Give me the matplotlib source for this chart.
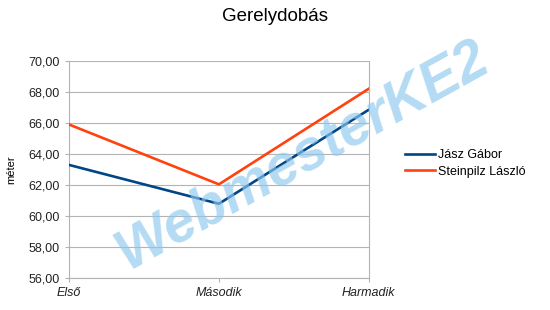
import matplotlib.pyplot as plt
from matplotlib.ticker import FuncFormatter

plt.rcParams['font.family'] = ['Liberation Sans', 'DejaVu Sans']

# data
rounds = ["Első", "Második", "Harmadik"]
jasz = [63.3, 60.8, 66.85]
steinpilz = [65.9, 62.05, 68.2]
yticks = [56, 58, 60, 62, 64, 66, 68, 70]

fig = plt.figure(figsize=(5.5, 3.1), dpi=100)
ax = fig.add_axes([0.1255, 0.102, 0.545, 0.702])

x = range(len(rounds))
ax.plot(x, jasz, color="#004586", lw=1.9, label="Jász Gábor", zorder=3)
ax.plot(x, steinpilz, color="#ff420e", lw=1.9, label="Steinpilz László", zorder=3)

ax.set_xlim(0, len(rounds) - 1)
ax.set_ylim(56, 70)
ax.set_yticks(yticks)
ax.yaxis.set_major_formatter(FuncFormatter(lambda v, p: f"{v:.2f}".replace(".", ",")))
ax.set_xticks(list(x))
ax.set_xticklabels(rounds, fontstyle="italic")
ax.tick_params(axis="both", labelsize=9, colors="#b3b3b3", labelcolor="#222222",
               length=3, width=0.8)
ax.yaxis.grid(True, color="#b3b3b3", lw=0.8)
for s in ["left", "right"]:
    ax.spines[s].set_color("#b3b3b3")
ax.spines["top"].set_visible(False)
ax.spines["bottom"].set_color("#b3b3b3")
ax.set_ylabel("méter", fontsize=8, labelpad=9)

fig.suptitle("Gerelydobás", x=0.5, y=0.975, fontsize=13.5)
fig.legend(loc="upper left", bbox_to_anchor=(0.715, 0.555), frameon=False,
           fontsize=9, handlelength=2.4, handletextpad=0.3, labelspacing=0.35)

# watermark
fig.text(0.55, 0.50, "WebmesterKE2", fontsize=41, fontweight="bold", fontstyle="italic",
         color="#8cc8ee", alpha=0.65, rotation=29, ha="center", va="center", zorder=5)

fig.savefig("out.png")
